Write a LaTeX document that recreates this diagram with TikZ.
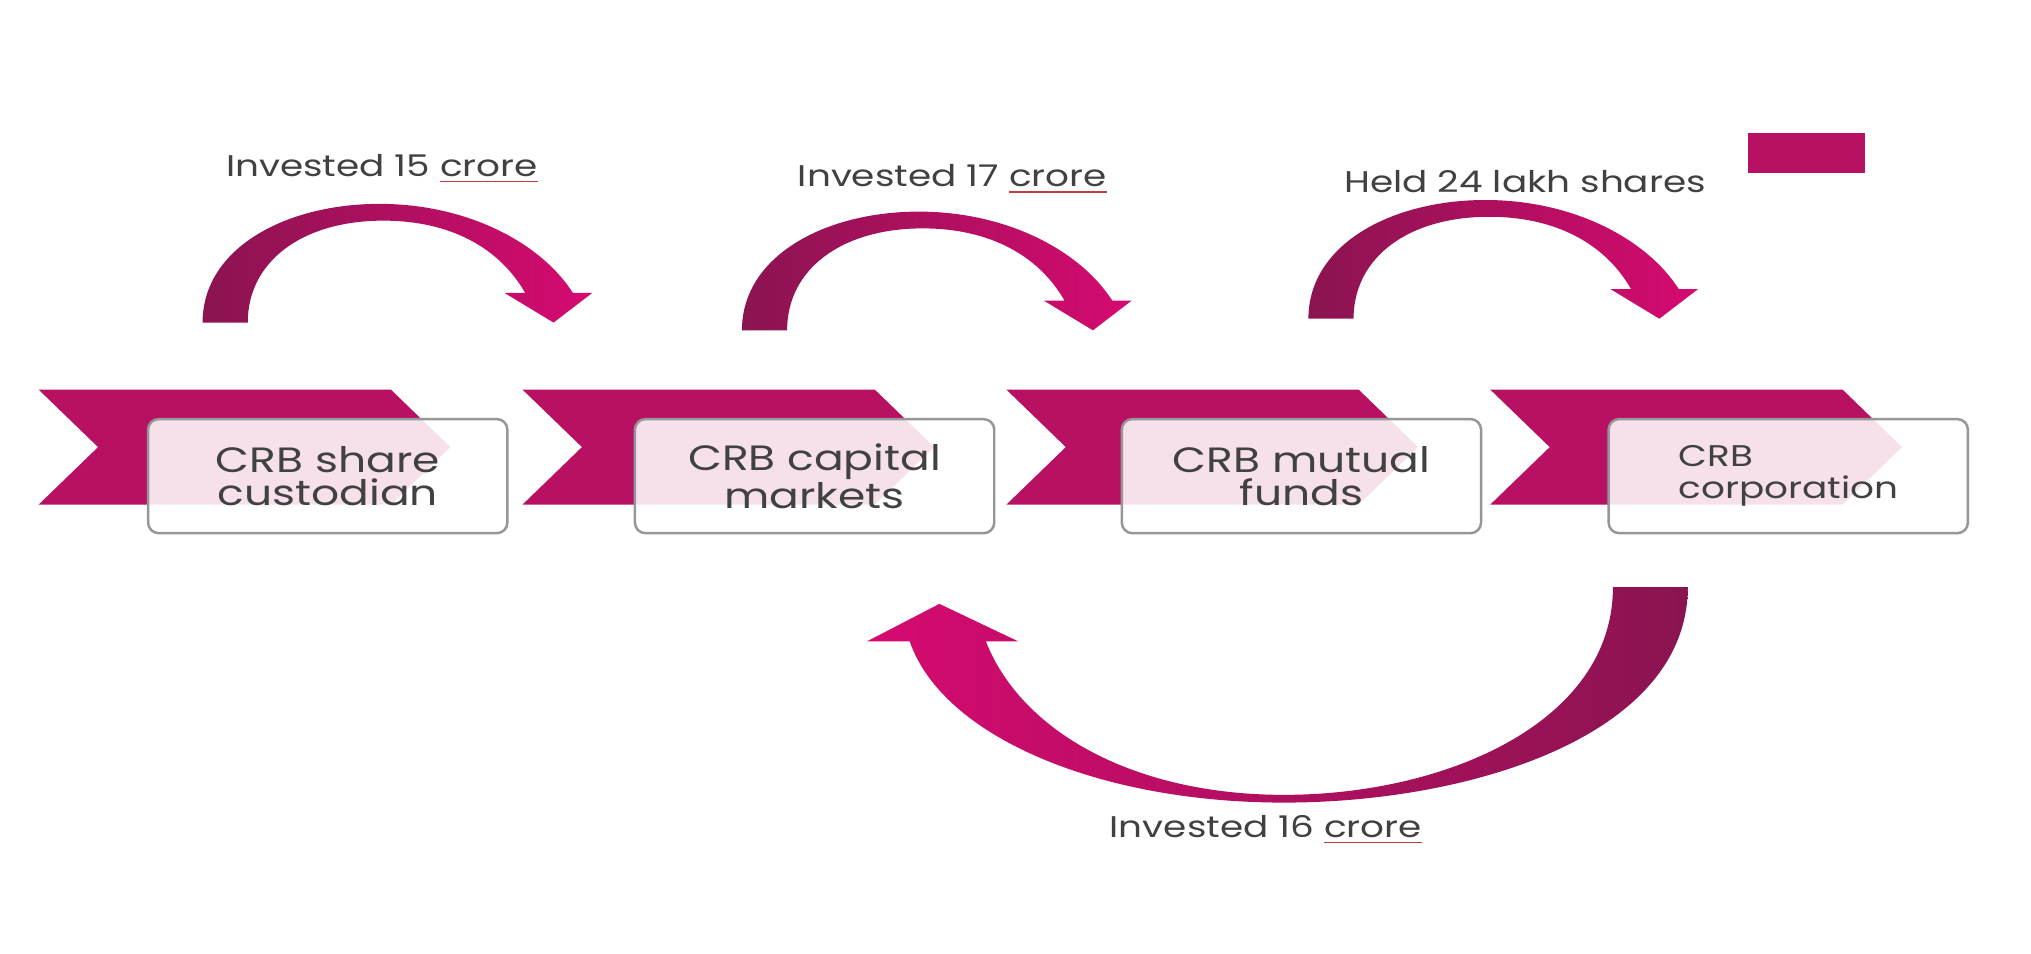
\documentclass[tikz,border=0pt]{standalone}
\usepackage{fontspec}
\setmainfont{Poppins}[FakeStretch=1.25]
\usepackage{tikz}
\usetikzlibrary{positioning}

\definecolor{crbpink}{RGB}{184,16,98}
\definecolor{crbdark}{RGB}{138,20,80}
\definecolor{crbbright}{RGB}{214,10,112}
\definecolor{labelgray}{RGB}{65,65,65}
\definecolor{boxline}{RGB}{150,150,150}
\newcommand{\crorew}{{\color{red!50!gray}\underline{\textcolor{labelgray}{crore}}}}

\begin{document}
\begin{tikzpicture}[x=0.0129cm, y=-0.0129cm, node distance=1.25cm]
        \tikzstyle{entity}=[rectangle, rounded corners=3pt, draw=boxline, line width=0.7pt, fill=white, fill opacity=0.88, text opacity=1, text=labelgray, minimum width=3.59cm, minimum height=1.14cm, align=center, font=\fontsize{10}{9.5}\selectfont]
        \tikzstyle{flow}=[text=labelgray, font=\fontsize{8.5}{10}\selectfont]
        \useasboundingbox (0,0) rectangle (1574,739);

        % Chevrons
        \foreach \x in {30,405,780,1155} {
            \fill[crbpink] (\x,302) -- ++(273,0) -- ++(46,44.5) -- ++(-46,44.5) -- ++(-273,0) -- ++(46,-44.5) -- cycle;
        }

        % Entities
        \node (custodian) [entity] at (254,369) {CRB share\\custodian};
        \node (capital) [entity, right = of custodian] {CRB capital\\markets};
        \node (funds) [entity, right = of capital] {CRB mutual\\funds};
        \node (corp) [entity, right = of funds, align=left, font=\fontsize{8.5}{9}\selectfont] {CRB\\corporation};

        % Top arrows
        \foreach \ax/\ay in {157/250, 575/256, 1014/247} {
            \shade[left color=crbdark, right color=crbbright, shift={(\ax,\ay)}]
                (0,0) .. controls (0,-58) and (65,-92) .. (137,-92)
                .. controls (205,-92) and (262,-62) .. (287,-23)
                -- (302,-23) -- (272,0) -- (234,-23) -- (250,-23)
                .. controls (230,-58) and (192,-79) .. (140,-79)
                .. controls (78,-79) and (35,-48) .. (35,0) -- cycle;
        }

        % Bottom arrow
        \shade[left color=crbbright, right color=crbdark]
            (1308,455) .. controls (1308,570) and (1140,622) .. (995,622)
            .. controls (850,622) and (730,570) .. (705,497)
            -- (672,497) -- (728,468) -- (789,497) -- (764,497)
            .. controls (792,568) and (880,616) .. (995,616)
            .. controls (1120,616) and (1250,560) .. (1250,455) -- cycle;

        % Labels
        \node (inv15) [flow] at (296,131) {Invested 15 \crorew};
        \node (inv17) [flow] at (738,139) {Invested 17 \crorew};
        \node (held24) [flow] at (1182,141) {Held 24 lakh shares};
        \node (inv16) [flow] at (981,643) {Invested 16 \crorew};

        % Legend
        \fill[crbpink] (1355,103) rectangle (1445,134);
    \end{tikzpicture}
\end{document}
